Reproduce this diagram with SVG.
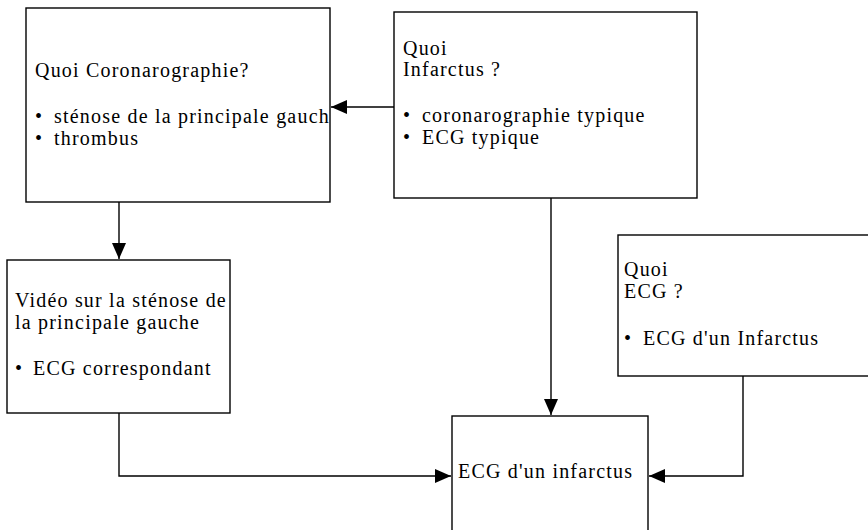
<svg xmlns="http://www.w3.org/2000/svg" width="868" height="530" viewBox="0 0 868 530">
<style>
.box{fill:#fff;stroke:#000;stroke-width:1.4}
.t{font-family:"Liberation Serif","Times New Roman",serif;font-size:20px;letter-spacing:1.2px;fill:#000}
.c{fill:none;stroke:#000;stroke-width:1.4}
</style>
<defs>
<marker id="ah" markerUnits="userSpaceOnUse" markerWidth="18" markerHeight="14" refX="16" refY="7" orient="auto">
<path d="M0,0 L16,7 L0,14 Z" fill="#000"/>
</marker>
<clipPath id="c1"><rect x="26" y="8" width="304" height="194"/></clipPath>
<clipPath id="c3"><rect x="7" y="260" width="223" height="153"/></clipPath>
</defs>
<g id="connectors">
<path class="c" d="M394,107 L331,107" marker-end="url(#ah)"/>
<path class="c" d="M119,202 L119,259" marker-end="url(#ah)"/>
<path class="c" d="M551,198 L551,415" marker-end="url(#ah)"/>
<path class="c" d="M119,413 L119,476 L451,476" marker-end="url(#ah)"/>
<path class="c" d="M743,376 L743,476 L649,476" marker-end="url(#ah)"/>
</g>
<g id="n1">
<rect class="box" x="26" y="8" width="304" height="194"/>
<g clip-path="url(#c1)">
<text class="t" x="35" y="77">Quoi Coronarographie?</text>
<text class="t" x="35" y="123">•</text><text class="t" x="54" y="123">sténose de la principale gauche</text>
<text class="t" x="35" y="145">•</text><text class="t" x="54" y="145">thrombus</text>
</g>
</g>
<g id="n2">
<rect class="box" x="394" y="12" width="303" height="186"/>
<text class="t" x="403" y="55">Quoi</text>
<text class="t" x="403" y="76">Infarctus ?</text>
<text class="t" x="403" y="122">•</text><text class="t" x="422" y="122">coronarographie typique</text>
<text class="t" x="403" y="144">•</text><text class="t" x="422" y="144">ECG typique</text>
</g>
<g id="n3">
<rect class="box" x="7" y="260" width="223" height="153"/>
<g clip-path="url(#c3)">
<text class="t" x="15" y="307">Vidéo sur la sténose de</text>
<text class="t" x="15" y="329">la principale gauche</text>
<text class="t" x="15" y="375">•</text><text class="t" x="33" y="375">ECG correspondant</text>
</g>
</g>
<g id="n4">
<rect class="box" x="618" y="235" width="260" height="141"/>
<text class="t" x="624" y="276">Quoi</text>
<text class="t" x="624" y="298">ECG ?</text>
<text class="t" x="624" y="345">•</text><text class="t" x="643" y="345">ECG d'un Infarctus</text>
</g>
<g id="n5">
<rect class="box" x="452" y="416" width="196" height="124"/>
<text class="t" x="458" y="478">ECG d'un infarctus</text>
</g>
</svg>
